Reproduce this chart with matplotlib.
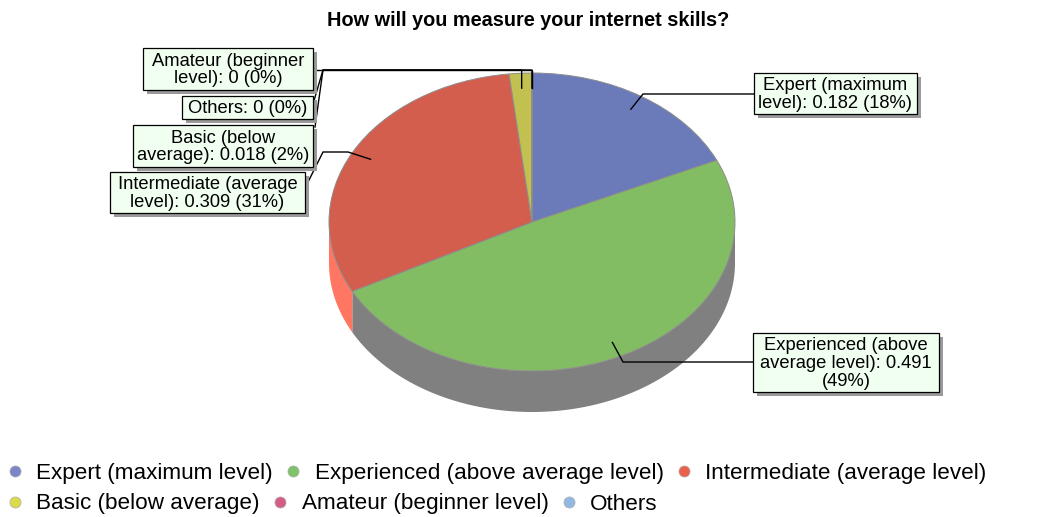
import textwrap
import numpy as np
import matplotlib
matplotlib.use("Agg")
import matplotlib.pyplot as plt
from matplotlib.patches import Rectangle, Polygon
from matplotlib.lines import Line2D

# ---------------- data ----------------
title = "How will you measure your internet skills?"
categories = [
    "Expert (maximum level)",
    "Experienced (above average level)",
    "Intermediate (average level)",
    "Basic (below average)",
    "Amateur (beginner level)",
    "Others",
]
values = [0.182, 0.491, 0.309, 0.018, 0.0, 0.0]

# ---------------- styles ----------------
top_colors = ["#6B7BB9", "#82BD64", "#D45E4E", "#C1C050", "#D55C86", "#90B8E0"]
side_colors = ["#56639A", "#808080", "#FF7662", "#9E9E40", "#B04A6E", "#7898BA"]
legend_colors = ["#7A86C8", "#7CC36A", "#E9604C", "#DADA4A", "#D55C86", "#90B8E0"]
wrap_widths = [20, 21, 21, 20, 20, 20]

# ---------------- layout (pixels) ----------------
W, H = 1048, 517
CX, CY, RX, RY, DEPTH = 532, 222, 203, 149, 41
boxes = [(754, 73, 917, 114), (753, 333, 939, 392), (110, 172, 305, 213),
         (133, 125, 313, 167), (143, 48, 313, 90), (182, 96, 313, 119)]
leader_paths = [
    [(643, 94), (754, 94)],
    [(623, 362), (753, 362)],
    [(348, 152), (323, 152), (307, 184)],
    [("v", 70), (323, 70), (315, 127)],
    [("v", 70), (313, 70)],
    [("v", 70), (323, 70), (313, 104)],
]

plt.rcParams["font.family"] = ["Liberation Sans", "DejaVu Sans"]
fig = plt.figure(figsize=(W / 100, H / 100), dpi=100)

# pie axes: unit circle in data -> ellipse in pixels
axP = fig.add_axes([0, 0, 1, 1])
wedges, _ = axP.pie(values, colors=top_colors, startangle=90, counterclock=False,
                    radius=1, center=(0, 0),
                    wedgeprops=dict(edgecolor="#8C8C8C", linewidth=0.7, zorder=3))
axP.set_aspect("auto")
axP.set_xlim((0 - CX) / RX, (W - CX) / RX)
axP.set_ylim((CY - H) / RY, CY / RY)
axP.axis("off")

d = DEPTH / RY
# side walls (front half of the ellipse)
for w, sc in zip(wedges, side_colors):
    t1, t2 = w.theta1, w.theta2
    for lo, hi in [(-540, -360), (-180, 0), (180, 360)]:
        a, b = max(t1, lo), min(t2, hi)
        if b - a <= 1e-9:
            continue
        t = np.radians(np.linspace(a, b, 200))
        xs = np.cos(t)
        ys = np.sin(t)
        pts = np.concatenate([np.column_stack([xs, ys]),
                              np.column_stack([xs[::-1], ys[::-1] - d])])
        axP.add_patch(Polygon(pts, closed=True, facecolor=sc, edgecolor="none", zorder=1))

# overlay axes in pixel coords
axL = fig.add_axes([0, 0, 1, 1], zorder=5)
axL.set_xlim(0, W)
axL.set_ylim(H, 0)
axL.axis("off")
axL.patch.set_alpha(0)

to_px = axP.transData + axL.transData.inverted()

for i, (w, cat, v) in enumerate(zip(wedges, categories, values)):
    mid = np.radians((w.theta1 + w.theta2) / 2)
    ax_, ay_ = to_px.transform((0.9 * np.cos(mid), 0.9 * np.sin(mid)))
    pts = [(ax_, ay_)]
    for p in leader_paths[i]:
        if p[0] == "v":
            pts.append((ax_, p[1]))
        else:
            pts.append(p)
    pts = np.array(pts, dtype=float)
    axL.plot(pts[:, 0], pts[:, 1], color="black", lw=1.0, zorder=6,
             solid_joinstyle="miter")

    x0, y0, x1, y1 = boxes[i]
    axL.add_patch(Rectangle((x0 + 4, y0 + 4), x1 - x0, y1 - y0, facecolor="#9A9A9A",
                            edgecolor="none", zorder=7))
    axL.add_patch(Rectangle((x0, y0), x1 - x0, y1 - y0, facecolor="#F0FFF0",
                            edgecolor="black", lw=0.9, zorder=8))
    label = f"{cat}: {v:g} ({round(v * 100)}%)"
    label = textwrap.fill(label, wrap_widths[i])
    axL.text((x0 + x1) / 2, (y0 + y1) / 2 + 1, label, ha="center", va="center",
             ma="center", fontsize=13.2, linespacing=1.05, zorder=9)

fig.text(528 / W, 1 - 20 / H, title, ha="center", va="center",
         fontsize=14.3, fontweight="bold")

# legend: two rows
handles = [Line2D([], [], marker="o", linestyle="none", markersize=8,
                  markerfacecolor=c, markeredgecolor="#B0B0B0", markeredgewidth=0.5)
           for c in legend_colors]
rows = [(0, 3, 473), (3, 6, 504)]
for s, e, yy in rows:
    fig.legend(handles[s:e], categories[s:e], loc="center left",
               bbox_to_anchor=(6 / W, 1 - yy / H), ncol=3, frameon=False,
               fontsize=16.2, handlelength=0.8, handletextpad=0.55,
               columnspacing=0.5, borderpad=0, borderaxespad=0)

fig.savefig("out.png", dpi=100)
